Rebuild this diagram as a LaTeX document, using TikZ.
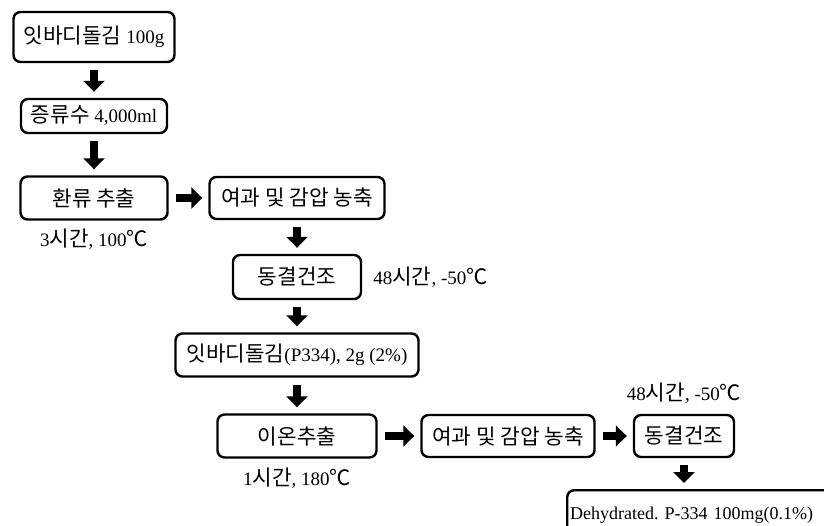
\documentclass[tikz,border=0pt]{standalone}
\usepackage{fontspec}
\setmainfont{Liberation Serif}
\newfontfamily\kr[Scale=1.12]{Noto Sans CJK KR}
\usetikzlibrary{arrows.meta,positioning}
\frenchspacing

\tikzset{
  stepbox/.style={draw,line width=2.4pt,rounded corners=7pt,inner sep=0pt,
    font=\fontsize{19pt}{22pt}\selectfont},
  note/.style={inner sep=0pt,font=\fontsize{19pt}{22pt}\selectfont},
  blk/.style={line width=8.5pt,-{Triangle[width=21pt,length=11pt]},
    shorten <=7pt,shorten >=6pt}
}

\begin{document}
\begin{tikzpicture}[x=1pt,y=-1pt]
\useasboundingbox (0,0) rectangle (824,526);
\clip (0,0) rectangle (824,526);
% left column
\node[stepbox,minimum width=161pt,minimum height=50pt] (raw) at (94,37) {{\kr 잇바디돌김} 100g};
\node[stepbox,minimum width=146pt,minimum height=34pt] (water) at (94,116) {{\kr 증류수} 4,000ml};
\node[stepbox,minimum width=147pt,minimum height=43pt] (reflux) at (94,198) {\kr 환류 추출};
\node[note,below=8pt of reflux] (reflux-c) {3{\kr 시간}, 100{\kr ℃}};
% middle column
\node[stepbox,minimum width=175pt,minimum height=42pt] (filt1) at (297,198) {\kr 여과 및 감압 농축};
\node[stepbox,minimum width=128pt,minimum height=44pt] (dry1) at (297,277) {\kr 동결건조};
\node[note,right=11pt of dry1] (dry1-c) {48{\kr 시간}, -50{\kr ℃}};
\node[stepbox,minimum width=243pt,minimum height=43pt] (p334) at (297,355) {{\kr 잇바디돌김}(P334), 2g (2\%)};
\node[stepbox,minimum width=159pt,minimum height=43pt] (ion) at (297,436) {\kr 이온추출};
\node[note,below=9pt of ion] (ion-c) {1{\kr 시간}, 180{\kr ℃}};
% right part
\node[stepbox,minimum width=173pt,minimum height=42pt] (filt2) at (508,436) {\kr 여과 및 감압 농축};
\node[stepbox,minimum width=100pt,minimum height=42pt] (dry2) at (684,436) {\kr 동결건조};
\node[note,above=10pt of dry2] (dry2-c) {48{\kr 시간}, -50{\kr ℃}};
\node[stepbox,anchor=north west,minimum width=290pt,minimum height=50pt,
  text width=284pt,align=left,font=\fontsize{18pt}{22pt}\selectfont] (final) at (566,489) {Dehydrated. P-334 100mg(0.1\%)};

\draw[blk] (raw) -- (water);
\draw[blk] (water) -- (reflux);
\draw[blk] (reflux) -- (filt1);
\draw[blk] (filt1) -- (dry1);
\draw[blk] (dry1) -- (p334);
\draw[blk] (p334) -- (ion);
\draw[blk] (ion) -- (filt2);
\draw[blk] (filt2) -- (dry2);
\draw[blk] (dry2.south) -- (dry2.south |- final.north);
\end{tikzpicture}
\end{document}
